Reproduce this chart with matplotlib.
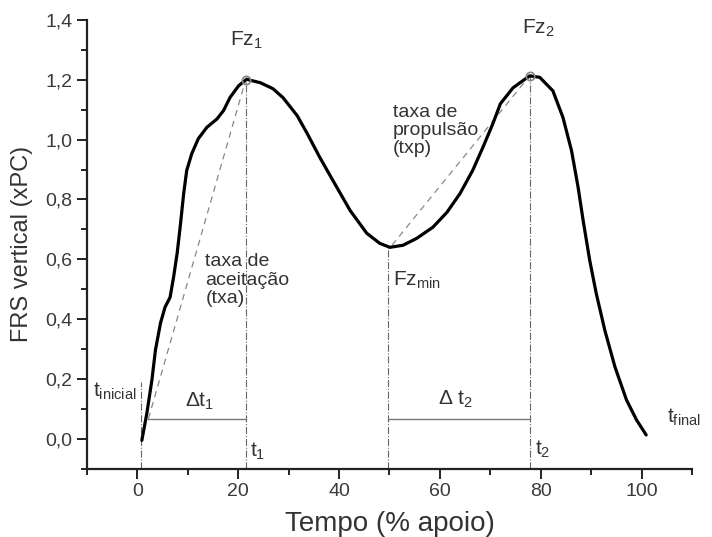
import matplotlib
matplotlib.use('Agg')
import matplotlib.pyplot as plt
from matplotlib.ticker import MultipleLocator, FuncFormatter

plt.rcParams['font.family'] = ['Liberation Sans', 'DejaVu Sans']
plt.rcParams['mathtext.fontset'] = 'custom'
plt.rcParams['mathtext.rm'] = 'Liberation Sans'
plt.rcParams['mathtext.it'] = 'Liberation Sans'

# vertical ground reaction force curve (% stance vs body weight)
tempo = [0.9, 1.9, 2.9, 3.6, 4.6, 5.5, 6.5, 7.2, 7.9, 8.5, 9.2, 9.8, 10.8, 12.1, 13.8,
         15.8, 17.1, 18.4, 20.1, 21.7, 22.0, 24.4, 26.9, 28.9, 31.7, 33.7, 36.2,
         38.8, 42.2, 45.5, 48.1, 50.1, 52.7, 55.4, 58.6, 61.4, 64.0, 66.5, 68.5, 70.5,
         72.0, 74.5, 77.8, 79.8, 82.4, 84.4, 86.1, 87.4, 88.4, 89.7, 91.0, 92.7, 94.7,
         97.0, 99.0, 100.9]
frs = [-0.005, 0.086, 0.197, 0.297, 0.387, 0.44, 0.473, 0.541, 0.62, 0.708, 0.82, 0.897,
       0.953, 1.003, 1.041, 1.069, 1.097, 1.141, 1.18, 1.202, 1.2, 1.19, 1.17, 1.14,
       1.08, 1.02, 0.94, 0.863, 0.763, 0.687, 0.653, 0.64, 0.647, 0.67, 0.707, 0.757,
       0.82, 0.897, 0.973, 1.053, 1.12, 1.173, 1.213, 1.208, 1.163, 1.074, 0.963, 0.841,
       0.73, 0.597, 0.486, 0.363, 0.241, 0.13, 0.063, 0.013]

# key events
t_inicial = 0.8
t1, fz1 = 21.5, 1.2
tmin, fzmin = 49.7, 0.64
t2, fz2 = 77.8, 1.213
y_dt = 0.067
t_start = 2.2

fig = plt.figure(figsize=(7.12, 5.37), dpi=100)
ax = fig.add_axes([0.122, 0.127, 0.85, 0.836])

grey_txt = '#333333'

# vertical dash-dot markers
ax.plot([t_inicial, t_inicial], [-0.1, 0.19], color='#666666', lw=0.8, ls='-.')
ax.plot([t1, t1], [-0.1, fz1], color='#666666', lw=0.8, ls='-.')
ax.plot([tmin, tmin], [-0.1, fzmin], color='#666666', lw=0.8, ls='-.')
ax.plot([t2, t2], [-0.1, fz2], color='#666666', lw=0.8, ls='-.')

# delta t lines
ax.plot([t_start, t1], [y_dt, y_dt], color='#777777', lw=1.0)
ax.plot([tmin, t2], [y_dt, y_dt], color='#777777', lw=1.0)

# rate lines
ax.plot([t_start, t1], [y_dt, fz1], color='#888888', lw=0.9, ls=(0, (5, 4)))
ax.plot([50.5, t2], [0.647, fz2], color='#888888', lw=0.9, ls=(0, (5, 4)))

ax.plot(tempo, frs, color='black', lw=2.3, solid_capstyle='round', solid_joinstyle='round')
ax.plot([t1, t2], [fz1, fz2], ls='none', marker='o', ms=6, mfc='none', mec='#888888', mew=1.2)

ax.set_xlim(-10, 110)
ax.set_ylim(-0.1, 1.4)
ax.xaxis.set_major_locator(MultipleLocator(20))
ax.xaxis.set_minor_locator(MultipleLocator(10))
ax.yaxis.set_major_locator(MultipleLocator(0.2))
ax.yaxis.set_minor_locator(MultipleLocator(0.1))
ax.yaxis.set_major_formatter(FuncFormatter(lambda v, p: f'{v:.1f}'.replace('.', ',')))
for s in ['top', 'right']:
    ax.spines[s].set_visible(False)
for s in ['left', 'bottom']:
    ax.spines[s].set_linewidth(1.6)
    ax.spines[s].set_color('#222222')
ax.tick_params(which='major', direction='out', length=7, width=1.4, labelsize=14,
               colors='#222222', labelcolor='#3a3a3a')
ax.tick_params(which='minor', direction='out', length=4, width=1.4, colors='#222222')

ax.set_xlabel('Tempo (% apoio)', fontsize=20, color=grey_txt, labelpad=8)
ax.set_ylabel('FRS vertical (xPC)', fontsize=17, color=grey_txt, labelpad=9)

ax.text(18.4, 1.313, r'Fz$_{\mathregular{1}}$', fontsize=15, color=grey_txt)
ax.text(76.2, 1.353, r'Fz$_{\mathregular{2}}$', fontsize=15, color=grey_txt)
ax.text(50.7, 0.513, r'Fz$_{\mathregular{min}}$', fontsize=15, color=grey_txt)
ax.text(-8.7, 0.14, r't$_{\mathregular{inicial}}$', fontsize=15, color=grey_txt)
ax.text(9.5, 0.107, r'$\Delta$t$_{\mathregular{1}}$', fontsize=15, color=grey_txt)
ax.text(22.4, -0.06, r't$_{\mathregular{1}}$', fontsize=15, color=grey_txt)
ax.text(59.6, 0.113, r'$\Delta$ t$_{\mathregular{2}}$', fontsize=15, color=grey_txt)
ax.text(78.8, -0.053, r't$_{\mathregular{2}}$', fontsize=15, color=grey_txt)
ax.text(105, 0.053, r't$_{\mathregular{final}}$', fontsize=15, color=grey_txt)

ax.text(13.5, 0.62, 'taxa de\naceitação\n(txa)', fontsize=14, color=grey_txt,
        va='top', linespacing=1.1)
ax.text(50.7, 1.12, 'taxa de\npropulsão\n(txp)', fontsize=14, color=grey_txt,
        va='top', linespacing=1.1)

fig.savefig('out.png', dpi=100)
